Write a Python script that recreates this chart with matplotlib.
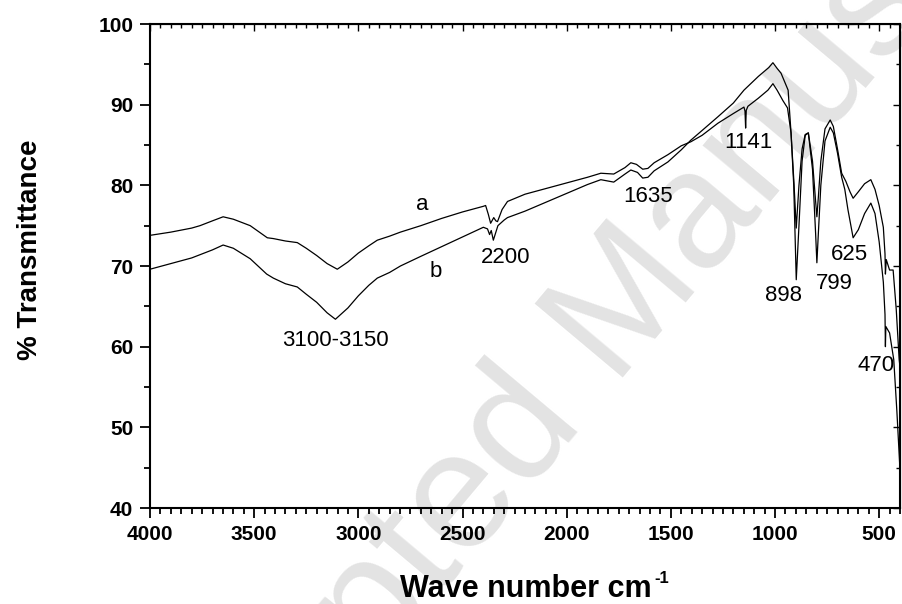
import matplotlib
matplotlib.use("Agg")
import matplotlib.pyplot as plt
from matplotlib.ticker import MultipleLocator

plt.rcParams['font.family'] = ['Liberation Sans', 'DejaVu Sans']

# FTIR spectra, wavenumber (cm-1) vs % transmittance
wn_a = [4000, 3900, 3800, 3760, 3700, 3649, 3600, 3519, 3437, 3408, 3350, 3293,
        3250, 3200, 3150, 3101, 3050, 3000, 2950, 2909, 2850, 2798, 2700, 2600,
        2500, 2400, 2389, 2376, 2365, 2350, 2340, 2332, 2310, 2284, 2200, 2100,
        2000, 1900, 1836, 1774, 1720, 1692, 1665, 1635, 1610, 1580, 1514, 1450,
        1404, 1350, 1274, 1200, 1149, 1144, 1141, 1138, 1130, 1080, 1034, 1010,
        990, 962, 940, 923, 910, 898, 885, 870, 855, 840, 820, 805, 799, 792,
        780, 760, 735, 720, 700, 680, 665, 650, 625, 600, 570, 540, 520, 500,
        480, 472, 470, 468, 450, 430, 415, 400]
t_a = [73.8, 74.2, 74.7, 75.0, 75.6, 76.1, 75.8, 75.0, 73.5, 73.4, 73.1, 72.9,
       72.2, 71.3, 70.3, 69.6, 70.5, 71.6, 72.5, 73.2, 73.7, 74.2, 75.0, 75.9,
       76.7, 77.4, 77.5, 76.4, 75.3, 76.0, 75.6, 75.5, 77.0, 78.0, 78.9, 79.6,
       80.3, 81.0, 81.5, 81.4, 82.2, 82.8, 82.6, 82.0, 82.1, 82.8, 83.8, 84.9,
       85.4, 86.2, 87.7, 88.9, 89.7, 89.2, 87.1, 89.3, 89.8, 90.8, 91.8, 92.6,
       91.8, 90.5, 89.6, 86.5, 80.0, 68.3, 75.0, 83.0, 86.2, 86.5, 82.0, 74.0,
       70.4, 74.0, 80.0, 85.5, 87.2, 86.5, 84.0, 81.0, 79.5, 77.0, 73.5, 74.5,
       76.5, 77.8, 76.5, 73.0, 68.0, 64.0, 60.0, 62.5, 61.7, 58.4, 52.0, 44.7]

wn_b = [4000, 3900, 3800, 3760, 3700, 3649, 3600, 3519, 3440, 3408, 3350, 3293,
        3250, 3200, 3150, 3110, 3050, 3000, 2950, 2909, 2850, 2798, 2700, 2600,
        2500, 2400, 2380, 2370, 2362, 2352, 2330, 2300, 2284, 2200, 2100, 2000,
        1900, 1836, 1774, 1720, 1692, 1660, 1635, 1610, 1580, 1514, 1450, 1404,
        1350, 1274, 1200, 1149, 1080, 1030, 1010, 990, 971, 937, 923, 909, 898,
        885, 870, 855, 840, 820, 805, 799, 792, 780, 760, 735, 720, 700, 680,
        660, 640, 625, 600, 570, 540, 520, 500, 480, 472, 470, 466, 450, 433,
        418, 404, 400]
t_b = [69.6, 70.3, 71.0, 71.4, 72.0, 72.6, 72.2, 70.9, 69.0, 68.5, 67.8, 67.4,
       66.5, 65.5, 64.2, 63.4, 64.8, 66.3, 67.6, 68.5, 69.2, 70.0, 71.2, 72.4,
       73.6, 74.8, 74.6, 73.9, 74.4, 73.2, 75.0, 75.7, 76.0, 76.8, 77.9, 79.0,
       80.1, 80.7, 80.4, 81.4, 81.9, 81.6, 80.9, 81.0, 81.8, 82.9, 84.4, 85.6,
       86.8, 88.5, 90.2, 91.8, 93.5, 94.6, 95.2, 94.5, 93.9, 91.8, 86.5, 80.3,
       74.7, 80.0, 84.5, 86.3, 86.5, 83.0, 78.0, 76.1, 78.5, 83.0, 87.0, 88.1,
       87.3, 84.5, 81.5, 80.5, 79.2, 78.4, 79.2, 80.2, 80.7, 79.5, 77.5, 74.8,
       71.5, 69.0, 70.8, 69.5, 69.5, 64.6, 58.4, 57.5]

# band labels: text, x (cm-1), y (%T)
band_text = ['a', 'b', '3100-3150', '2200', '1635', '1141', '898', '799', '625', '470']
band_x = [2692, 2630, 3110, 2293, 1611, 1130, 957, 716, 644, 514]
band_y = [77.6, 69.3, 60.8, 71.0, 78.6, 85.3, 66.4, 67.8, 71.4, 57.7]

fig = plt.figure(figsize=(9.03, 6.04), dpi=100)
fig.text(0.67, 0.45, 'Accepted Manuscript', rotation=50, rotation_mode='anchor',
         ha='center', va='center', fontsize=120, color='#e3e3e3', zorder=-1)

ax = fig.add_axes([150/903, 1 - 508/604, 750/903, 484/604])
ax.patch.set_alpha(0)

ax.plot(wn_a, t_a, color='black', lw=0.9)
ax.plot(wn_b, t_b, color='black', lw=0.9)

for s, x, y in zip(band_text, band_x, band_y):
    ax.text(x, y, s, ha='center', va='center', fontsize=16)

ax.set_xlim(4000, 400)
ax.set_ylim(40, 100)
ax.set_xticks([4000, 3500, 3000, 2500, 2000, 1500, 1000, 500])
ax.xaxis.set_minor_locator(MultipleLocator(50))
ax.set_yticks([40, 50, 60, 70, 80, 90, 100])
ax.yaxis.set_minor_locator(MultipleLocator(5))

for sp in ax.spines.values():
    sp.set_linewidth(1.5)
ax.tick_params(which='both', direction='out', width=1.3, top=False, right=False)
ax.tick_params(which='major', length=7, labelsize=15, pad=5)
ax.tick_params(which='minor', length=4)
for lab in ax.get_xticklabels() + ax.get_yticklabels():
    lab.set_fontweight('bold')

# inward ticks on the top and right edges
top = ax.secondary_xaxis('top')
top.set_xticks(ax.get_xticks())
top.xaxis.set_minor_locator(MultipleLocator(50))
top.tick_params(which='both', direction='in', width=1.0, labeltop=False)
top.tick_params(which='major', length=5)
top.tick_params(which='minor', length=3)
right = ax.secondary_yaxis('right')
right.set_yticks(ax.get_yticks())
right.yaxis.set_minor_locator(MultipleLocator(5))
right.tick_params(which='both', direction='in', width=1.0, labelright=False)
right.tick_params(which='major', length=5)
right.tick_params(which='minor', length=3)

fig.text(30/903, 1 - 250/604, '% Transmittance', rotation=90, ha='center',
         va='center', fontsize=20, fontweight='bold')
fig.text(652/903, 1 - 597/604, 'Wave number cm', ha='right', va='baseline',
         fontsize=22, fontweight='bold')
fig.text(654/903, 1 - 583/604, '-1', ha='left', va='baseline',
         fontsize=12, fontweight='bold')

fig.savefig('out.png', dpi=100)
